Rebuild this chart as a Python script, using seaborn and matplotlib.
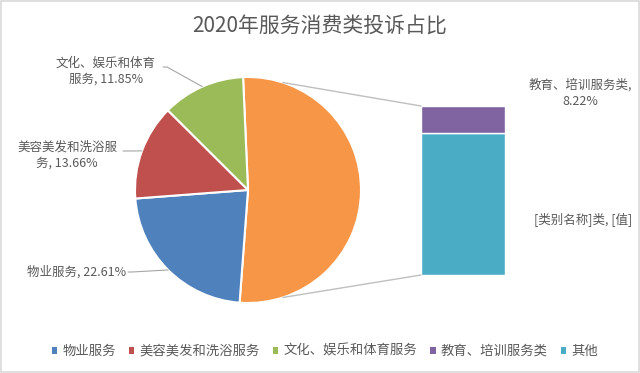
import numpy as np
import seaborn as sns
import matplotlib.pyplot as plt
from matplotlib.patches import ConnectionPatch, Patch, Rectangle

# data
title = '2020年服务消费类投诉占比'
categories = ['物业服务', '美容美发和洗浴服务', '文化、娱乐和体育服务', '教育、培训服务类', '其他']
shares = [22.61, 13.66, 11.85, 8.22, 43.66]
pie_labels = ['物业服务, 22.61%', '美容美发和洗浴服\n务, 13.66%', '文化、娱乐和体育\n服务, 11.85%']
bar_labels = ['教育、培训服务类,\n8.22%', '[类别名称]类, [值]']

colors = ['#4F81BD', '#C0504D', '#9BBB59', '#8064A2', '#4BACC6']
other_color = '#F79646'
text_color = '#595959'

sns.set_style('white')
plt.rcParams['font.family'] = ['Noto Sans CJK SC', 'DejaVu Sans']

W, H = 640, 373
fig = plt.figure(figsize=(W / 100, H / 100), dpi=100)


def fpos(x, y):
    # image pixel -> figure fraction
    return x / W, 1 - y / H


# pie: the first three categories plus the aggregated "other" slice
cx, cy, r = 248, 190, 113
ax_pie = fig.add_axes([(cx - r) / W, 1 - (cy + r) / H, 2 * r / W, 2 * r / H])
other_total = sum(shares[3:])
pie_vals = [other_total] + shares[:3]
wedges, _ = ax_pie.pie(pie_vals, colors=[other_color] + colors[:3],
                       startangle=92.5, counterclock=False,
                       wedgeprops=dict(edgecolor='white', linewidth=1.5))
ax_pie.set_xlim(-1, 1)
ax_pie.set_ylim(-1, 1)
ax_pie.set_aspect('equal')
ax_pie.axis('off')

# bar of the split-off part
bx0, bx1, by0, by1 = 421, 505, 106, 275
ax_bar = fig.add_axes([bx0 / W, 1 - by1 / H, (bx1 - bx0) / W, (by1 - by0) / H])
ax_bar.bar([0], [shares[4]], width=1, color=colors[4], edgecolor='white', linewidth=1)
ax_bar.bar([0], [shares[3]], bottom=[shares[4]], width=1, color=colors[3],
           edgecolor='white', linewidth=1)
ax_bar.set_xlim(-0.5, 0.5)
ax_bar.set_ylim(0, other_total)
ax_bar.axis('off')

# connector lines from pie to bar
ang = np.deg2rad(72)
for sgn, yb in [(1, other_total), (-1, 0)]:
    con = ConnectionPatch(xyA=(np.cos(ang), sgn * np.sin(ang)), coordsA=ax_pie.transData,
                          xyB=(-0.5, yb), coordsB=ax_bar.transData,
                          color='#BFBFBF', linewidth=1)
    fig.add_artist(con)

# pie data labels with leader lines
label_pos = [(77, 272, 'center'), (67, 155, 'center'), (106, 71, 'center')]
leader_start = [(128, 272), (123, 151), (163, 67)]
for i, w in enumerate(wedges[1:]):
    mid = np.deg2rad((w.theta1 + w.theta2) / 2)
    px, py = cx + r * np.cos(mid), cy - r * np.sin(mid)
    lx, ly, ha = label_pos[i]
    fig.text(*fpos(lx, ly), pie_labels[i], ha=ha, va='center', fontsize=9,
             color=text_color, linespacing=1.3)
    sx, sy = leader_start[i]
    fig.add_artist(plt.Line2D([sx / W, (sx + 4) / W, px / W], [1 - sy / H, 1 - sy / H, 1 - py / H],
                              color='#A6A6A6', linewidth=0.8))

fig.text(*fpos(580, 93), bar_labels[0], ha='center', va='center', fontsize=9,
         color=text_color, linespacing=1.4)
fig.text(*fpos(583, 220), bar_labels[1], ha='center', va='center', fontsize=9,
         color=text_color)

fig.text(*fpos(320, 26), title, ha='center', va='center', fontsize=15, color=text_color)

handles = [Patch(facecolor=c, edgecolor='none') for c in colors]
fig.legend(handles, categories, loc='center', bbox_to_anchor=fpos(325, 351), ncol=5,
           frameon=False, fontsize=9.6, handlelength=0.42, handleheight=0.42,
           handletextpad=0.4, columnspacing=0.95, labelcolor=text_color)

fig.add_artist(Rectangle((0.001, 0.002), 0.997, 0.995, transform=fig.transFigure,
                         fill=False, edgecolor='#D9D9D9', linewidth=1.2))

fig.savefig('out.png', dpi=100)
